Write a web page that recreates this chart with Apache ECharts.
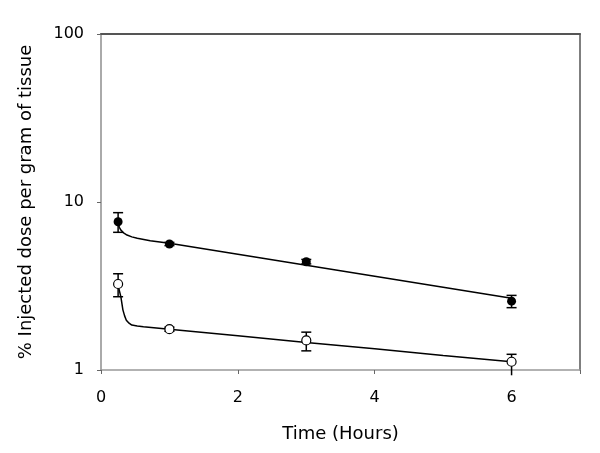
<!DOCTYPE html>
<html>
<head>
<meta charset="utf-8">
<script src="https://cdn.jsdelivr.net/npm/echarts@6/dist/echarts.min.js"></script>
<style>html,body{margin:0;padding:0;background:#fff;}#chart{width:600px;height:453px;}</style>
</head>
<body>
<div id="chart"></div>
<script>
// Measured data
var times = [0.25, 1, 3, 6];
var filledMean = [7.63, 5.62, 4.41, 2.57];
var filledHigh = [8.64, 5.75, 4.55, 2.78];
var filledLow  = [6.60, 5.50, 4.28, 2.35];
var openMean = [3.25, 1.75, 1.50, 1.12];
var openHigh = [3.74, 1.80, 1.68, 1.24];
var openLow  = [2.73, 1.70, 1.30, 0.93];

// Fitted curves
var filledFitX = [0.25, 0.27, 0.29, 0.33, 0.38, 0.45, 0.53, 0.72, 1, 2, 3, 4, 5, 6];
var filledFitY = [7.39, 7.05, 6.81, 6.55, 6.36, 6.20, 6.08, 5.88, 5.68, 4.89, 4.20, 3.61, 3.11, 2.67];
var openFitX = [0.25, 0.27, 0.29, 0.32, 0.345, 0.37, 0.41, 0.45, 0.53, 0.62, 1, 2, 3, 4, 5, 6];
var openFitY = [3.21, 2.95, 2.73, 2.28, 2.10, 1.98, 1.90, 1.85, 1.83, 1.81, 1.75, 1.60, 1.46, 1.34, 1.22, 1.12];

var xTicks = [0, 2, 4, 6];
var yTicks = [1, 10, 100];

var FONT = 'DejaVu Sans';

function zip(a, b) { return a.map(function (v, i) { return [v, b[i]]; }); }
function errData(m, h, l) { return times.map(function (t, i) { return [t, m[i], h[i], l[i]]; }); }

function renderErr(params, api) {
  var x = api.value(0);
  var hi = api.coord([x, api.value(2)]);
  var lo = api.coord([x, api.value(3)]);
  var cap = 5;
  var style = { stroke: '#000', lineWidth: 1.5 };
  var children = [
    { type: 'line', shape: { x1: hi[0], y1: hi[1], x2: lo[0], y2: lo[1] }, style: style },
    { type: 'line', shape: { x1: hi[0] - cap, y1: hi[1], x2: hi[0] + cap, y2: hi[1] }, style: style }
  ];
  if (api.value(3) >= yTicks[0]) {
    children.push({ type: 'line', shape: { x1: lo[0] - cap, y1: lo[1], x2: lo[0] + cap, y2: lo[1] }, style: style });
  }
  return { type: 'group', children: children };
}

var chart = echarts.init(document.getElementById('chart'), null, { renderer: 'canvas' });
chart.setOption({
  animation: false,
  backgroundColor: '#fff',
  grid: { left: 101, right: 20, top: 34, bottom: 83 },
  xAxis: [{
    type: 'value', min: 0, max: 7, interval: 2,
    name: 'Time (Hours)', nameLocation: 'middle', nameGap: 55,
    nameTextStyle: { fontFamily: FONT, fontSize: 18, color: '#000' },
    axisLine: { show: true, onZero: false, lineStyle: { color: '#999', width: 1.5 } },
    axisTick: { show: true, inside: false, length: 4, lineStyle: { color: '#666' } },
    axisLabel: { margin: 20, fontFamily: FONT, fontSize: 16, color: '#000',
      formatter: function (v) { return xTicks.indexOf(v) >= 0 ? String(v) : ''; } },
    splitLine: { show: false }
  }, {
    type: 'value', min: 0, max: 7, position: 'top',
    axisLine: { show: true, onZero: false, lineStyle: { color: '#555', width: 2 } },
    axisTick: { show: false }, axisLabel: { show: false }, splitLine: { show: false }
  }],
  yAxis: [{
    type: 'log', logBase: 10, min: 1, max: 100,
    name: '% Injected dose per gram of tissue', nameLocation: 'middle', nameGap: 66,
    nameTextStyle: { fontFamily: FONT, fontSize: 18, color: '#000' },
    axisLine: { show: true, onZero: false, lineStyle: { color: '#aaa', width: 2 } },
    axisTick: { show: true, inside: false, length: 4, lineStyle: { color: '#666' } },
    minorTick: { show: false },
    axisLabel: { margin: 17, fontFamily: FONT, fontSize: 16, color: '#000',
      formatter: function (v) { return String(Math.round(v)); } },
    splitLine: { show: false }
  }, {
    type: 'log', logBase: 10, min: 1, max: 100, position: 'right',
    axisLine: { show: true, onZero: false, lineStyle: { color: '#555', width: 1.5 } },
    axisTick: { show: false }, axisLabel: { show: false }, splitLine: { show: false }
  }],
  series: [
    { type: 'line', data: zip(filledFitX, filledFitY), smooth: false,
      showSymbol: false, symbol: 'none', lineStyle: { color: '#000', width: 1.5 }, z: 2 },
    { type: 'line', data: zip(openFitX, openFitY), smooth: false,
      showSymbol: false, symbol: 'none', lineStyle: { color: '#000', width: 1.5 }, z: 2 },
    { type: 'custom', renderItem: renderErr, data: errData(filledMean, filledHigh, filledLow),
      encode: { x: 0, y: [1, 2, 3] }, clip: false, z: 3 },
    { type: 'custom', renderItem: renderErr, data: errData(openMean, openHigh, openLow),
      encode: { x: 0, y: [1, 2, 3] }, clip: false, z: 3 },
    { type: 'scatter', data: zip(times, filledMean), symbol: 'circle', symbolSize: 9,
      itemStyle: { color: '#000', borderColor: '#000', borderWidth: 0, opacity: 1 }, z: 4 },
    { type: 'scatter', data: zip(times, openMean), symbol: 'circle', symbolSize: 9,
      itemStyle: { color: '#fff', borderColor: '#000', borderWidth: 1.2, opacity: 1 }, z: 4 }
  ]
});
</script>
</body>
</html>
